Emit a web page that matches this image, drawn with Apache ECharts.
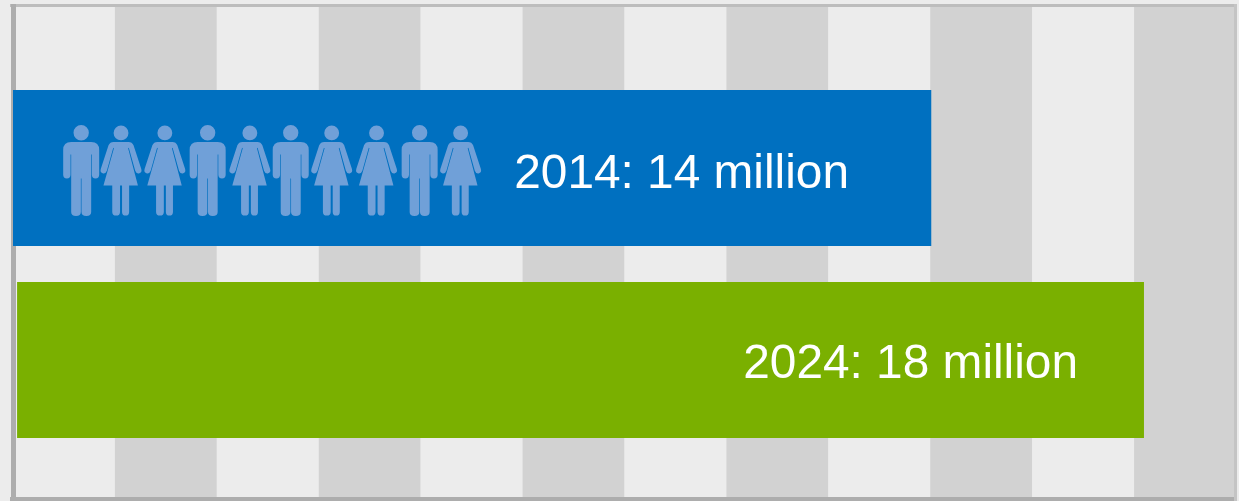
<!DOCTYPE html>
<html><head><meta charset="utf-8">
<style>html,body{margin:0;padding:0;background:#ececec}#c{width:1239px;height:501px}</style>
<script src="https://cdn.jsdelivr.net/npm/echarts@6/dist/echarts.min.js"></script>
</head><body><div id="c"></div>
<script>
// Bars: values are the printed labels; lengths are read in background-stripe units
const years = ['2014', '2024'];
const millions = [14, 18];
const barStart = [0, 0.04];
const barEnd = [9.01, 11.097];
const barRow = [1, 2];
const labelStart = [4.918, 7.165];
const labelRow = [1.036, 2.026];
// Pictogram row, in stripe units
const peopleKinds = ['man','woman','woman','man','woman','man','woman','woman','man','woman'];
const peopleAt = [0.669, 1.06, 1.49, 1.91, 2.324, 2.725, 3.127, 3.567, 3.99, 4.392];
const peopleRow = 1.013;

const MAN = 'path://M54 1a23 23 0 1 0 .01 0zM24 52H84Q108 52 108 76V150Q108 161 97 161Q86 161 86 150V89H84V262Q84 274 69.500 274Q55 274 55 262V161H53V262Q53 274 38.500 274Q24 274 24 262V89H22V150Q22 161 11 161Q0 161 0 150V76Q0 52 24 52Z';
const WOMAN = 'path://M61 0a22 22 0 1 0 .01 0zM39 49H83Q94 49 98 59L121 130Q124 141 114 143Q106 144 103 135L84 66L82 68L111 179H85V258Q85 269 74.500 269Q64 269 64 258V179H58V258Q58 269 46.500 269Q35 269 35 258V179H9L40 68L38 66L19 135Q16 144 8 143Q-2 141 1 130L24 59Q28 49 39 49Z';

const chart = echarts.init(document.getElementById('c'), null, {renderer:'canvas'});
const frame = (x,y,w,h,c) => ({type:'rect', z:1, shape:{x,y,width:w,height:h}, style:{fill:c}});
chart.setOption({
  animation:false,
  backgroundColor:'#ececec',
  graphic:{elements:[
    frame(10,4,1227,3,'#bdbdbd'),
    frame(11,4,5,497,'#adadad'),
    frame(10,497,1227,4,'#adadad'),
    frame(1234,4,3,497,'#c4c4c4')
  ]},
  grid:{left:13,top:7,width:1223,height:491.5,containLabel:false},
  xAxis:{type:'value',min:0,max:12,interval:1,
    axisLine:{show:false},axisTick:{show:false},axisLabel:{show:false},splitLine:{show:false},
    splitArea:{show:true,areaStyle:{color:['#ececec','#d2d2d2']}}},
  yAxis:{type:'value',inverse:true,min:0.161,max:2.721,
    axisLine:{show:false},axisTick:{show:false},axisLabel:{show:false},splitLine:{show:false}},
  series:[
    {type:'custom',z:5,coordinateSystem:'cartesian2d',
     data:years.map((y,i)=>[barStart[i],barEnd[i],barRow[i],i]),
     encode:{x:[0,1],y:2},
     renderItem(p,api){
       const a=api.coord([api.value(0),api.value(2)]), b=api.coord([api.value(1),api.value(2)]);
       const h=api.size([0,0.8125])[1];
       const i=api.value(3);
       return {type:'rect',shape:{x:a[0],y:a[1]-h/2,width:b[0]-a[0],height:h},
         style:{fill:['#0070c0','#7ab000'][i]}};
     }},
    {type:'scatter',z:6,silent:true,
     data:peopleAt.map((x,i)=>({value:[x,peopleRow],
       symbol:peopleKinds[i]==='man'?MAN:WOMAN,
       symbolSize:peopleKinds[i]==='man'?[36,91]:[41,90]})),
     itemStyle:{color:'#70a0d8',opacity:1}},
    {type:'custom',z:7,coordinateSystem:'cartesian2d',silent:true,
     data:years.map((y,i)=>[labelStart[i],labelRow[i],i]),
     encode:{x:0,y:1},
     renderItem(p,api){
       const c=api.coord([api.value(0),api.value(1)]);
       const i=api.value(2);
       return {type:'text',style:{x:c[0],y:c[1],text:years[i]+': '+millions[i]+' million',
         fill:'#ffffff',font:'47.8px "Liberation Sans", Arial, sans-serif',
         textAlign:'left',textVerticalAlign:'middle'}};
     }}
  ]
});
</script></body></html>
